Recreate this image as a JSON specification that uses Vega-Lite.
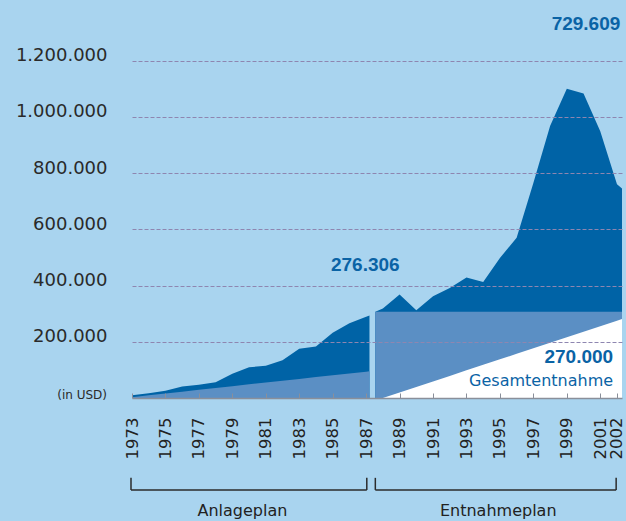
{
  "$schema": "https://vega.github.io/schema/vega-lite/v6.json",
  "autosize": {"type": "none"},
  "width": 490,
  "height": 388,
  "padding": {"left": 132, "top": 10, "right": 4, "bottom": 123},
  "background": "#a9d4ef",
  "config": {
    "view": {"stroke": null},
    "locale": {"number": {"decimal": ",", "thousands": ".", "grouping": [3], "currency": ["", " €"]}}
  },
  "datasets": {
    "series": [
      {"year": 1973, "phase": "A", "total": 10000, "invested": 3000, "withdrawn": null},
      {"year": 1974, "phase": "A", "total": 17000, "invested": 9500, "withdrawn": null},
      {"year": 1975, "phase": "A", "total": 26000, "invested": 16000, "withdrawn": null},
      {"year": 1976, "phase": "A", "total": 41000, "invested": 22500, "withdrawn": null},
      {"year": 1977, "phase": "A", "total": 47000, "invested": 29000, "withdrawn": null},
      {"year": 1978, "phase": "A", "total": 56000, "invested": 35500, "withdrawn": null},
      {"year": 1979, "phase": "A", "total": 86000, "invested": 42000, "withdrawn": null},
      {"year": 1980, "phase": "A", "total": 109000, "invested": 48500, "withdrawn": null},
      {"year": 1981, "phase": "A", "total": 115000, "invested": 55000, "withdrawn": null},
      {"year": 1982, "phase": "A", "total": 134000, "invested": 61500, "withdrawn": null},
      {"year": 1983, "phase": "A", "total": 175000, "invested": 68000, "withdrawn": null},
      {"year": 1984, "phase": "A", "total": 183000, "invested": 74500, "withdrawn": null},
      {"year": 1985, "phase": "A", "total": 232000, "invested": 81000, "withdrawn": null},
      {"year": 1986, "phase": "A", "total": 266000, "invested": 87500, "withdrawn": null},
      {"year": 1987, "phase": "A", "total": 289000, "invested": 93500, "withdrawn": null},
      {"year": 1987.2, "phase": "A", "total": 293000, "invested": 95000, "withdrawn": null},
      {"year": 1987.55, "phase": "B", "total": 307000, "invested": 307000, "withdrawn": 0},
      {"year": 1988, "phase": "B", "total": 318000, "invested": 307000, "withdrawn": 0},
      {"year": 1989, "phase": "B", "total": 368000, "invested": 307000, "withdrawn": 19700},
      {"year": 1990, "phase": "B", "total": 312000, "invested": 307000, "withdrawn": 39300},
      {"year": 1991, "phase": "B", "total": 362000, "invested": 307000, "withdrawn": 59000},
      {"year": 1992, "phase": "B", "total": 391000, "invested": 307000, "withdrawn": 78600},
      {"year": 1993, "phase": "B", "total": 429000, "invested": 307000, "withdrawn": 98300},
      {"year": 1994, "phase": "B", "total": 413000, "invested": 307000, "withdrawn": 118000},
      {"year": 1995, "phase": "B", "total": 498000, "invested": 307000, "withdrawn": 137600},
      {"year": 1996, "phase": "B", "total": 570000, "invested": 307000, "withdrawn": 157000},
      {"year": 1997, "phase": "B", "total": 765000, "invested": 307000, "withdrawn": 177000},
      {"year": 1998, "phase": "B", "total": 967000, "invested": 307000, "withdrawn": 196500},
      {"year": 1999, "phase": "B", "total": 1100000, "invested": 307000, "withdrawn": 216000},
      {"year": 2000, "phase": "B", "total": 1083000, "invested": 307000, "withdrawn": 236000},
      {"year": 2001, "phase": "B", "total": 949000, "invested": 307000, "withdrawn": 255000},
      {"year": 2002, "phase": "B", "total": 760000, "invested": 307000, "withdrawn": 275000},
      {"year": 2002.3, "phase": "B", "total": 745000, "invested": 307000, "withdrawn": 281000}
    ],
    "plans": [
      {"plan": "Anlageplan", "start": 1972.94, "end": 1987.04},
      {"plan": "Entnahmeplan", "start": 1987.55, "end": 2001.95}
    ]
  },
  "layer": [
    {
      "data": {"name": "series"},
      "mark": {"type": "area", "color": "#0063a6"},
      "encoding": {
        "x": {
          "field": "year", "type": "quantitative", "title": null,
          "scale": {"domain": [1973, 2002.3], "nice": false, "zero": false},
          "axis": {
            "values": [1973, 1975, 1977, 1979, 1981, 1983, 1985, 1987, 1989, 1991, 1993, 1995, 1997, 1999, 2001, 2002],
            "tickCount": 40,
            "format": "d", "labelAngle": 270, "labelFont": "DejaVu Sans", "labelFontSize": 16.5,
            "labelColor": "#222222", "tickSize": -5, "tickColor": "#8a8f9a", "tickWidth": 1,
            "domainColor": "#8a8f9a", "domainWidth": 1.5, "labelPadding": 24, "grid": false,
            "title": null, "labelFlush": false, "labelOverlap": false, "zindex": 1
          }
        },
        "y": {
          "field": "total", "type": "quantitative", "stack": null, "title": null,
          "scale": {"domain": [0, 1380000], "nice": false},
          "axis": {
            "values": [200000, 400000, 600000, 800000, 1000000, 1200000],
            "format": ",d", "grid": true, "gridDash": [4, 2], "gridColor": "#8e86b0", "gridWidth": 1,
            "domain": false, "ticks": false, "labelPadding": 25, "labelFont": "DejaVu Sans",
            "labelFontSize": 18, "labelColor": "#2a2a2a", "labelBaseline": "alphabetic",
            "title": null, "zindex": 1, "labelOverlap": false
          }
        },
        "detail": {"field": "phase"}
      }
    },
    {
      "data": {"name": "series"},
      "mark": {"type": "area", "color": "#5b8fc4"},
      "encoding": {
        "x": {"field": "year", "type": "quantitative", "title": null},
        "y": {"field": "invested", "type": "quantitative", "stack": null, "title": null},
        "detail": {"field": "phase"}
      }
    },
    {
      "data": {"name": "series"},
      "transform": [{"filter": "datum.phase === 'B'"}],
      "mark": {"type": "area", "color": "#ffffff"},
      "encoding": {
        "x": {"field": "year", "type": "quantitative", "title": null},
        "y": {"field": "withdrawn", "type": "quantitative", "stack": null, "title": null}
      }
    },
    {
      "data": {"name": "plans"},
      "mark": {"type": "rule", "color": "#2b2b2b", "strokeWidth": 1.5},
      "encoding": {
        "x": {"field": "start", "type": "quantitative", "title": null},
        "x2": {"field": "end"},
        "y": {"datum": -327000}
      }
    },
    {
      "data": {"name": "plans"},
      "mark": {"type": "rule", "color": "#2b2b2b", "strokeWidth": 1.5},
      "encoding": {
        "x": {"field": "start", "type": "quantitative", "title": null},
        "y": {"datum": -284000},
        "y2": {"datum": -327000}
      }
    },
    {
      "data": {"name": "plans"},
      "mark": {"type": "rule", "color": "#2b2b2b", "strokeWidth": 1.5},
      "encoding": {
        "x": {"field": "end", "type": "quantitative", "title": null},
        "y": {"datum": -284000},
        "y2": {"datum": -327000}
      }
    },
    {
      "data": {"values": [{}]},
      "mark": {"type": "text", "text": "Anlageplan", "font": "DejaVu Sans", "fontSize": 16, "color": "#222222", "align": "center", "baseline": "alphabetic"},
      "encoding": {"x": {"datum": 1979.6}, "y": {"datum": -421000}}
    },
    {
      "data": {"values": [{}]},
      "mark": {"type": "text", "text": "Entnahmeplan", "font": "DejaVu Sans", "fontSize": 16, "color": "#222222", "align": "center", "baseline": "alphabetic"},
      "encoding": {"x": {"datum": 1994.9}, "y": {"datum": -421000}}
    },
    {
      "data": {"values": [{}]},
      "mark": {"type": "text", "text": "(in USD)", "font": "DejaVu Sans", "fontSize": 12, "color": "#2a2a2a", "align": "right", "baseline": "alphabetic", "dx": -25, "dy": 1},
      "encoding": {"x": {"datum": 1973}, "y": {"datum": 0}}
    },
    {
      "data": {"values": [{}]},
      "mark": {"type": "text", "text": "729.609", "font": "Liberation Sans", "fontWeight": "bold", "fontSize": 19, "color": "#0a63a5", "align": "right", "baseline": "middle"},
      "encoding": {"x": {"datum": 2002.2}, "y": {"datum": 1331000}}
    },
    {
      "data": {"values": [{}]},
      "mark": {"type": "text", "text": "276.306", "font": "Liberation Sans", "fontWeight": "bold", "fontSize": 19, "color": "#0a63a5", "align": "center", "baseline": "middle"},
      "encoding": {"x": {"datum": 1986.95}, "y": {"datum": 472000}}
    },
    {
      "data": {"values": [{}]},
      "mark": {"type": "text", "text": "270.000", "font": "Liberation Sans", "fontWeight": "bold", "fontSize": 19, "color": "#0a63a5", "align": "right", "baseline": "middle"},
      "encoding": {"x": {"datum": 2001.77}, "y": {"datum": 146000}}
    },
    {
      "data": {"values": [{}]},
      "mark": {"type": "text", "text": "Gesamtentnahme", "font": "DejaVu Sans", "fontSize": 16, "color": "#0a63a5", "align": "right", "baseline": "alphabetic"},
      "encoding": {"x": {"datum": 2001.77}, "y": {"datum": 43000}}
    }
  ]
}
